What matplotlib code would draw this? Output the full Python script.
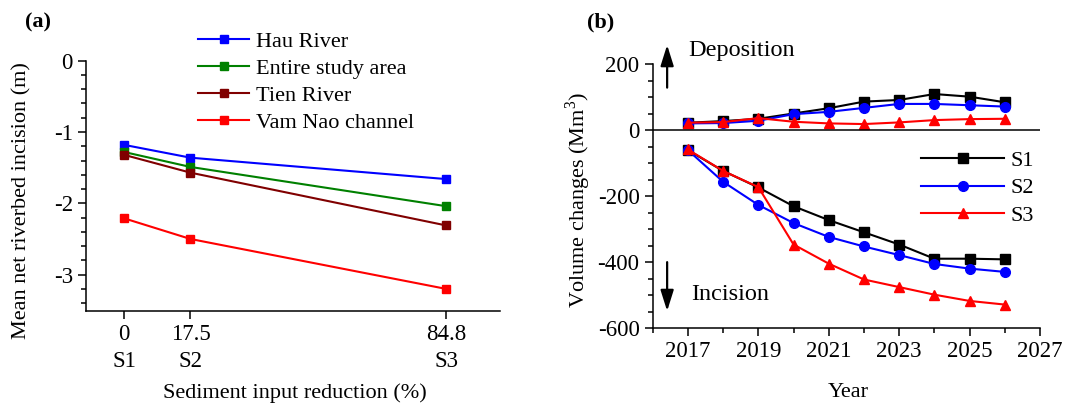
"""Riverbed incision under sediment reduction scenarios, two panels."""

import matplotlib

matplotlib.use("Agg")
import matplotlib.pyplot as plt
from matplotlib.ticker import MultipleLocator

plt.rcParams["font.family"] = ["Liberation Serif", "DejaVu Serif"]
plt.rcParams["font.size"] = 16.5
plt.rcParams["axes.linewidth"] = 1.1
plt.rcParams["axes.unicode_minus"] = False
plt.rcParams["mathtext.fontset"] = "custom"
plt.rcParams["mathtext.rm"] = "Liberation Serif"

# panel (a): mean net riverbed incision per reach
reduction = [0, 17.5, 84.8]
scenario_ticks = ["0\nS1", "17.5\nS2", "84.8\nS3"]
hau_river = [-1.18, -1.36, -1.66]
entire_area = [-1.28, -1.49, -2.04]
tien_river = [-1.32, -1.57, -2.31]
vam_nao = [-2.21, -2.50, -3.20]

# panel (b): yearly volume changes (Mm3), deposition and incision parts
years = list(range(2017, 2027))
s1_dep = [22, 27, 34, 50, 66, 86, 91, 109, 101, 84]
s2_dep = [20, 21, 28, 48, 55, 67, 79, 79, 75, 71]
s3_dep = [22, 24, 36, 25, 20, 18, 23, 30, 33, 34]
s1_inc = [-61, -124, -174, -231, -273, -310, -347, -390, -390, -392]
s2_inc = [-61, -157, -227, -282, -324, -353, -379, -406, -420, -430]
s3_inc = [-59, -124, -173, -347, -405, -453, -476, -499, -518, -529]

W, H = 1072, 405
fig = plt.figure(figsize=(W / 100, H / 100), dpi=100)


def box(left, top, right, bottom):
    return [left / W, 1 - bottom / H, (right - left) / W, (bottom - top) / H]


def style_axes(ax):
    ax.spines["top"].set_visible(False)
    ax.spines["right"].set_visible(False)
    ax.tick_params(which="major", direction="out", length=6, width=1.1)
    ax.tick_params(which="minor", direction="out", length=3.5, width=1.1)


# ---- (a)
ax_a = fig.add_axes(box(86, 60.7, 500, 311))
style_axes(ax_a)
series_a = [
    (hau_river, "#0000ff", "Hau River"),
    (entire_area, "#008000", "Entire study area"),
    (tien_river, "#800000", "Tien River"),
    (vam_nao, "#ff0000", "Vam Nao channel"),
]
for ys, color, label in series_a:
    ax_a.plot(reduction, ys, color=color, lw=1.5, marker="s", ms=5.5, label=label)
ax_a.set_xlim(-10, 99)
ax_a.set_ylim(-3.51, 0)
ax_a.set_xticks(reduction)
ax_a.set_xticklabels(scenario_ticks, linespacing=1.35)
ax_a.yaxis.set_major_locator(MultipleLocator(1))
ax_a.yaxis.set_minor_locator(MultipleLocator(0.2))
ax_a.set_xlabel("Sediment input reduction (%)", fontsize=16)
ax_a.xaxis.set_label_coords(0.505, -0.328)
ax_a.xaxis.label.set_verticalalignment("center")
ax_a.set_ylabel("Mean net riverbed incision (m)", fontsize=16)
ax_a.yaxis.set_label_coords(-0.155, 0.443)
ax_a.yaxis.label.set_verticalalignment("center")
ax_a.legend(loc="upper left", bbox_to_anchor=(0.249, 1.154), frameon=False,
            handlelength=2.3, handletextpad=0.3, labelspacing=0.3,
            borderaxespad=0, fontsize=16)

# ---- (b)
ax_b = fig.add_axes(box(652.7, 64, 1040, 328))
style_axes(ax_b)
series_b = [
    (s1_dep, s1_inc, "black", "s", 6.5, "S1"),
    (s2_dep, s2_inc, "#0000ff", "o", 7, "S2"),
    (s3_dep, s3_inc, "#ff0000", "^", 7.5, "S3"),
]
for dep, inc, color, marker, size, label in series_b:
    ax_b.plot(years, dep, color=color, lw=1.5, marker=marker, ms=size)
    ax_b.plot(years, inc, color=color, lw=1.5, marker=marker, ms=size, label=label)
ax_b.axhline(0, color="black", lw=1.1)
ax_b.set_xlim(2016, 2027)
ax_b.set_ylim(-600, 200)
ax_b.set_xticks(range(2017, 2028, 2))
ax_b.xaxis.set_minor_locator(MultipleLocator(1))
ax_b.yaxis.set_major_locator(MultipleLocator(200))
ax_b.yaxis.set_minor_locator(MultipleLocator(50))
ax_b.set_xlabel("Year", fontsize=16)
ax_b.xaxis.set_label_coords(0.504, -0.246)
ax_b.xaxis.label.set_verticalalignment("center")
ax_b.set_ylabel("Volume changes (Mm$^3$)", fontsize=16)
ax_b.yaxis.set_label_coords(-0.193, 0.485)
ax_b.yaxis.label.set_verticalalignment("center")
ax_b.legend(loc="upper left", bbox_to_anchor=(0.671, 0.707), frameon=False,
            handlelength=3.7, handletextpad=0.3, labelspacing=0.32,
            borderaxespad=0, fontsize=16)

arrow = dict(arrowstyle="-|>,head_length=0.7,head_width=0.22", color="black",
             lw=1.6, mutation_scale=18)
ax_b.annotate("", xy=(2016.41, 266), xytext=(2016.41, 120), arrowprops=arrow,
              annotation_clip=False)
ax_b.annotate("", xy=(2016.41, -557), xytext=(2016.41, -392), arrowprops=arrow)
ax_b.text(2017.0, 242, "Deposition", fontsize=17.5, va="center", ha="left",
          clip_on=False)
ax_b.text(2017.1, -500, "Incision", fontsize=17.5, va="center", ha="left")

fig.text(25 / W, 1 - 22 / H, "(a)", fontsize=16, fontweight="bold", va="center")
fig.text(587 / W, 1 - 22 / H, "(b)", fontsize=16, fontweight="bold", va="center")

fig.savefig("out.png", dpi=100)
